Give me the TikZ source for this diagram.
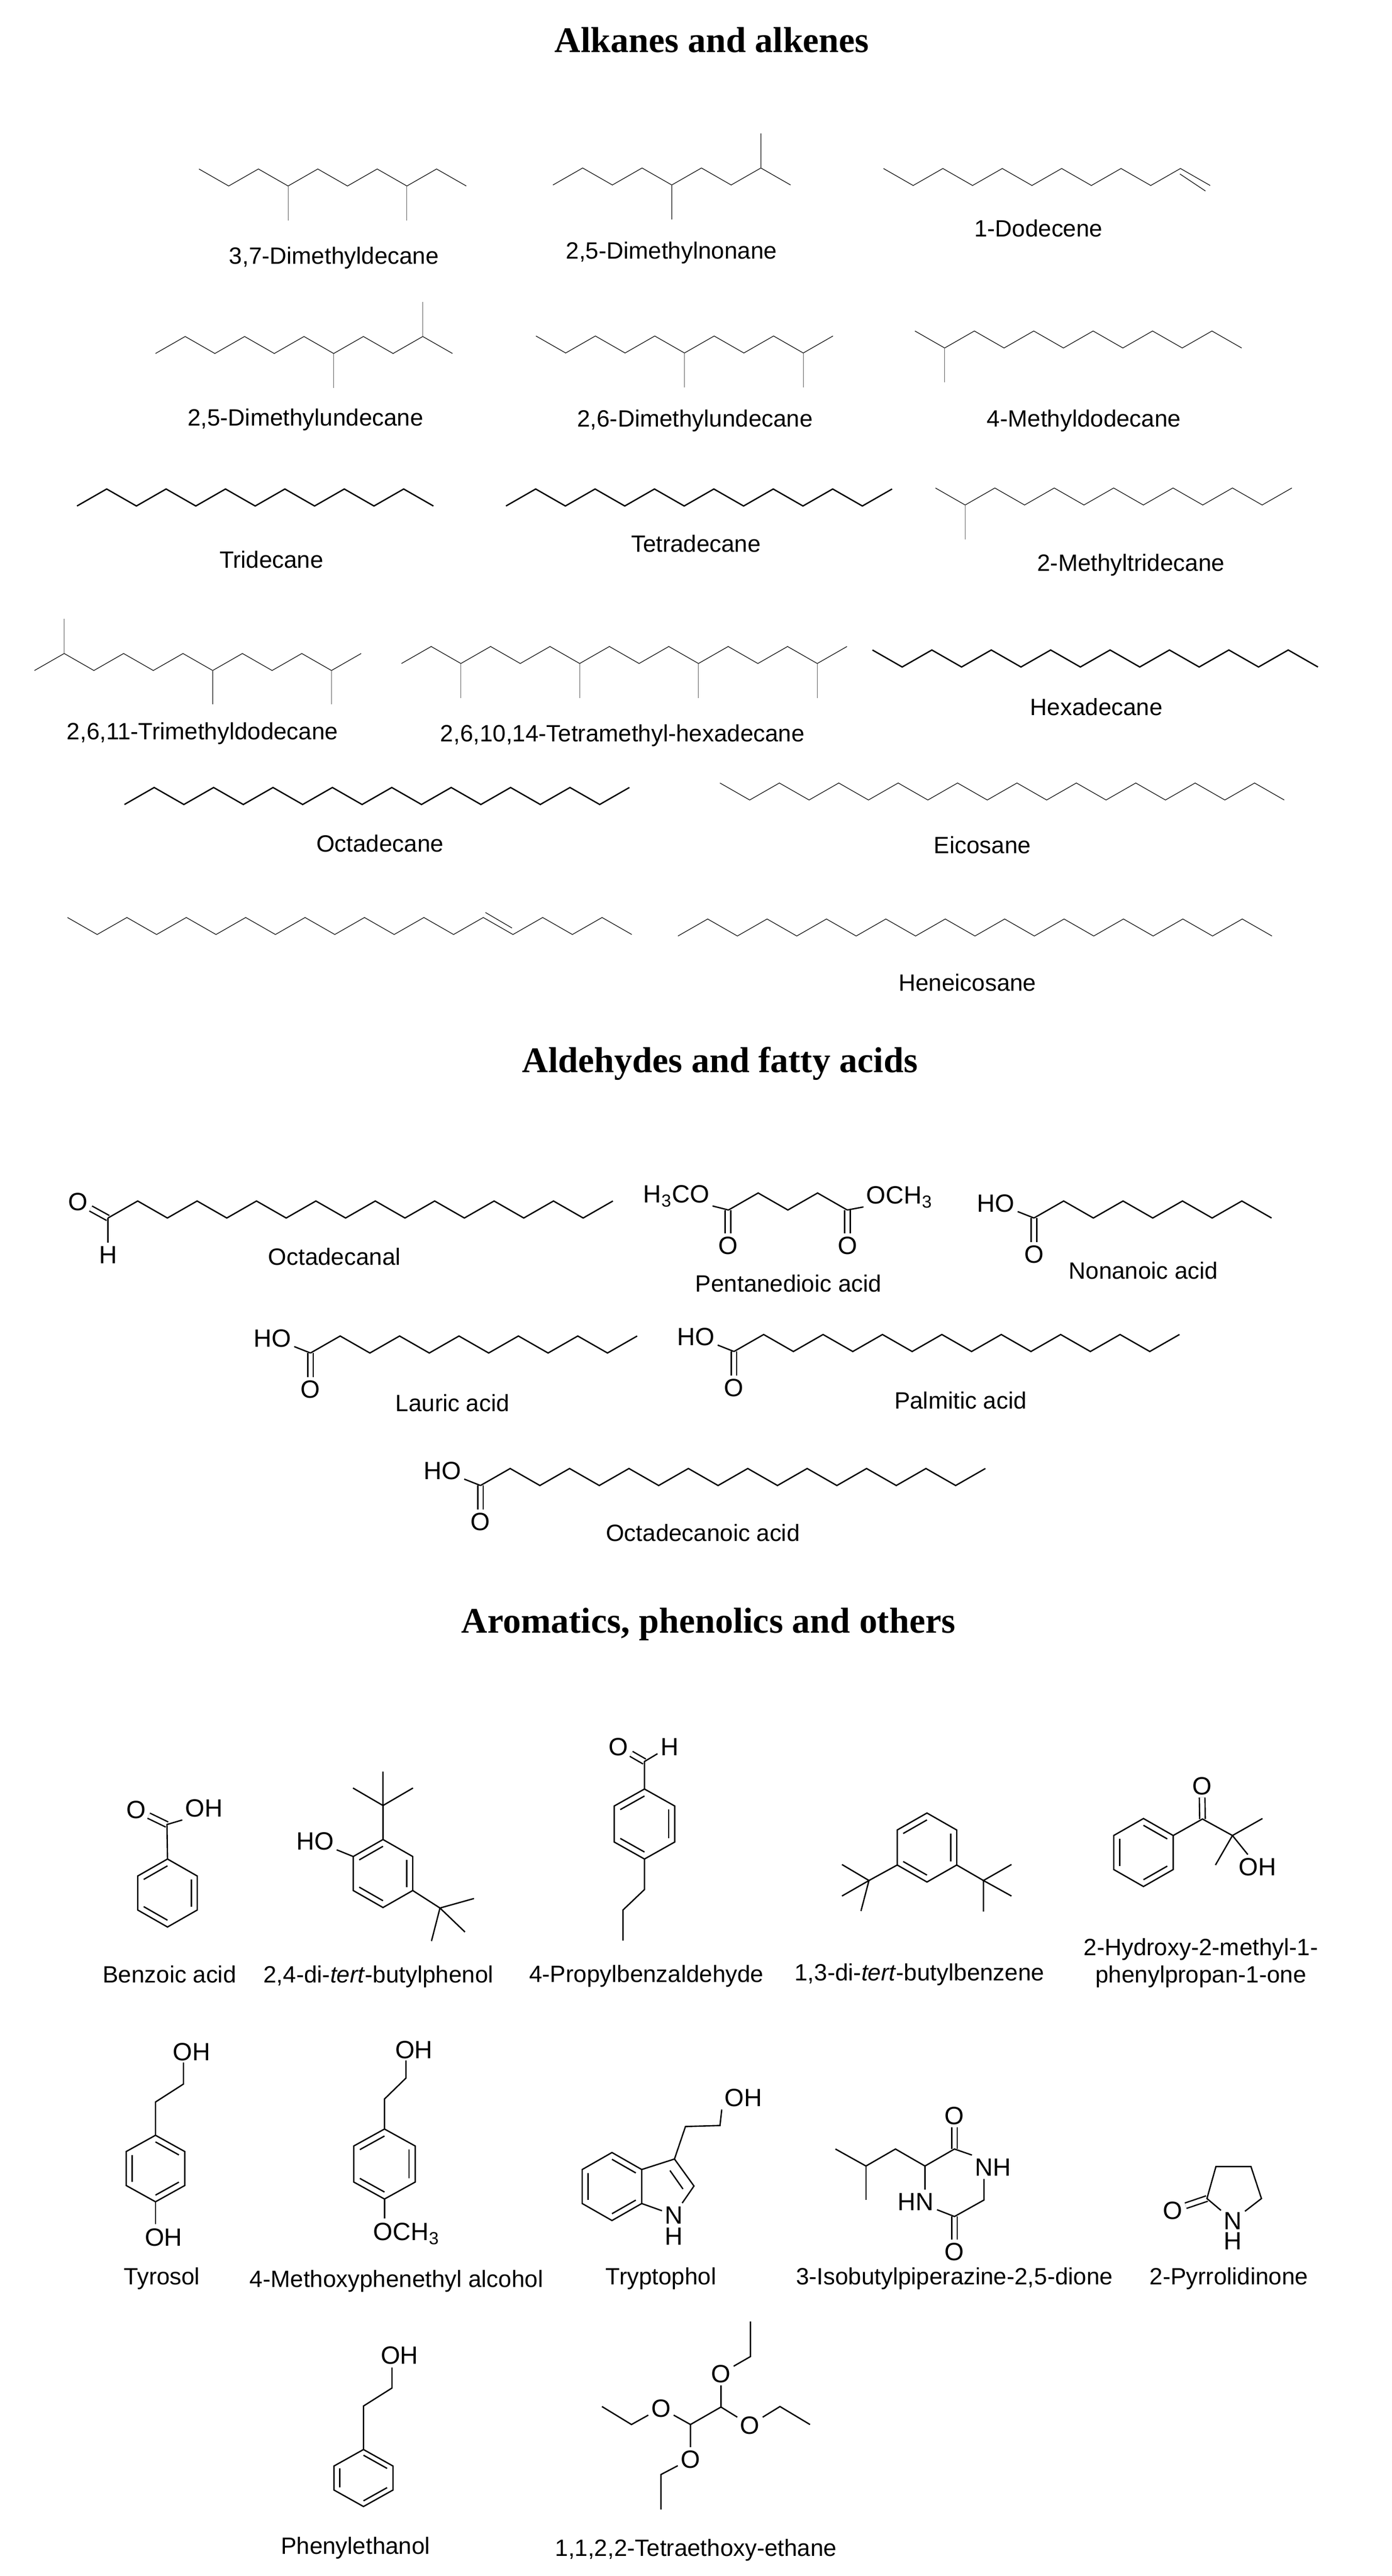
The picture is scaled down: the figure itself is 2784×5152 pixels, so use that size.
\documentclass[tikz,border=0pt]{standalone}
\usepackage{fontspec}
\usepackage{amsmath}
\usetikzlibrary{calc}
\setmainfont{Liberation Sans}
\newfontfamily\headfont{Liberation Serif}
\tikzset{
  thinbond/.style={line width=0.014cm,color=black!90},
  greybond/.style={line width=0.014cm,color=black!65},
  bond/.style={line width=0.027cm,color=black},
  dblbond/.style={line width=0.027cm,double,double distance=0.085cm},
  atom/.style={inner sep=1.5pt,font=\fontsize{14.2}{16}\selectfont,text height=10.2pt,text depth=0pt},
  molname/.style={inner sep=0pt,yshift=-0.04cm,font=\fontsize{13.4}{15.6}\selectfont,text height=9.6pt,text depth=2.8pt},
  molnametwo/.style={inner sep=0pt,yshift=-0.02cm,font=\fontsize{13.4}{15.6}\selectfont,align=center},
  heading/.style={inner sep=0pt,font=\headfont\bfseries\fontsize{20.5}{24}\selectfont}
}
\newcommand{\zigzag}[6][thinbond]{
  \foreach \i in {0,...,#5}{\coordinate(#2-\i)at({#3+59.4*\i},{#4+(#6)*34*mod(\i,2)});}
  \draw[#1](#2-0)\foreach \i in {1,...,#5}{--(#2-\i)};
}
\newcommand{\ring}[7]{
  \coordinate(#1-c)at(#2,#3);
  \coordinate(#1-1)at(#2,#3-#5);\coordinate(#1-2)at(#2+#4,#3-#6);\coordinate(#1-3)at(#2+#4,#3+#6);
  \coordinate(#1-4)at(#2,#3+#5);\coordinate(#1-5)at(#2-#4,#3+#6);\coordinate(#1-6)at(#2-#4,#3-#6);
  \draw[bond](#1-1)--(#1-2)--(#1-3)--(#1-4)--(#1-5)--(#1-6)--cycle;
  \foreach \a/\b in {#7}{\draw[bond]($(#1-\a)!.2!(#1-c)$)--($(#1-\b)!.2!(#1-c)$);}
}
\newcommand{\tbutyl}[9]{
  \coordinate(#1)at(#2,#3);
  \draw[bond](#4,#5)--(#1)--(#6,#7)(#1)--(#8,#9);
}
\newcommand{\fattyacid}[4]{
  \coordinate(#1-co)at(#2,#3);
  \node[atom](#1-oh)at(#2-76,#3-30){HO};
  \node[atom](#1-o)at(#2,#3+72){O};
  \draw[dblbond](#1-co)--(#1-o);
  \draw[bond](#1-co)--(#1-oh);
  \zigzag[bond]{#1}{#2}{#3}{#4}{-1}
}
\begin{document}
\begin{tikzpicture}[x=0.01cm,y=-0.01cm]
\useasboundingbox(0,0)rectangle(2784,5152);
\node[heading](headalk)at(1424,80){Alkanes and alkenes};
\node[heading](headald)at(1440,2127){Aldehydes and fatty acids};
\node[heading](headaro)at(1417,3248){Aromatics, phenolics and others};

\zigzag{dmd}{398}{338}{9}{1}
\draw[greybond](dmd-3)--++(0,69)coordinate(dmd-m1);
\draw[greybond](dmd-7)--++(0,69)coordinate(dmd-m2);
\node[molname](dmdname)at(668,512){3,7-Dimethyldecane};
\zigzag{dmn}{1106}{370}{8}{-1}
\draw[greybond](dmn-4)--++(0,69)coordinate(dmn-m1);
\draw[greybond](dmn-7)--++(0,-69)coordinate(dmn-m2);
\node[molname](dmnname)at(1343,502){2,5-Dimethylnonane};
\zigzag{ddc}{1767}{337}{11}{1}
\draw[thinbond](2360,348)coordinate(ddc-a)--(2411,382)coordinate(ddc-b);
\node[molname](ddcname)at(2077,458){1-Dodecene};

\zigzag{dmu}{311}{707}{10}{-1}
\draw[greybond](dmu-6)--++(0,69)coordinate(dmu-m1);
\draw[greybond](dmu-9)--++(0,-69)coordinate(dmu-m2);
\node[molname](dmuname)at(611,836){2,5-Dimethylundecane};
\zigzag{dmv}{1072}{672}{10}{1}
\draw[greybond](dmv-5)--++(0,69)coordinate(dmv-m1);
\draw[greybond](dmv-9)--++(0,69)coordinate(dmv-m2);
\node[molname](dmvname)at(1390,838){2,6-Dimethylundecane};
\zigzag{mdd}{1830}{662}{11}{1}
\draw[greybond](mdd-1)--++(0,69)coordinate(mdd-m1);
\node[molname](mddname)at(2168,838){4-Methyldodecane};

\zigzag[bond]{tri}{154}{1012}{12}{-1}
\node[molname](triname)at(543,1120){Tridecane};
\zigzag[bond]{tet}{1012}{1012}{13}{-1}
\node[molname](tetname)at(1392,1088){Tetradecane};
\zigzag{mtr}{1871}{976}{12}{1}
\draw[greybond](mtr-1)--++(0,69)coordinate(mtr-m1);
\node[molname](mtrname)at(2262,1126){2-Methyltridecane};

\zigzag{tmd}{69}{1341}{11}{-1}
\draw[greybond](tmd-1)--++(0,-69)coordinate(tmd-m1);
\draw[greybond](tmd-6)--++(0,68)coordinate(tmd-m2);
\draw[greybond](tmd-10)--++(0,68)coordinate(tmd-m3);
\node[molname](tmdname)at(405,1463){2,6,11-Trimethyldodecane};
\zigzag{tmh}{803}{1327}{15}{-1}
\foreach \k in {2,6,10,14}{\draw[greybond](tmh-\k)--++(0,69)coordinate(tmh-m\k);}
\node[molname](tmhname)at(1245,1467){2,6,10,14-Tetramethyl-hexadecane};
\zigzag[bond]{hex}{1745}{1300}{15}{1}
\node[molname](hexname)at(2193,1415){Hexadecane};

\zigzag[bond]{oct}{249}{1609}{17}{-1}
\node[molname](octname)at(760,1688){Octadecane};
\zigzag{eic}{1440}{1566}{19}{1}
\node[molname](eicname)at(1965,1691){Eicosane};

\zigzag{non}{135}{1835}{19}{1}
\draw[thinbond](971,1825)coordinate(non-a)--(1024,1856)coordinate(non-b);
\zigzag{hen}{1356}{1872}{20}{-1}
\node[molname](henname)at(1935,1966){Heneicosane};

\coordinate(ald-co)at(216,2436);
\node[atom](ald-o)at(156,2403){O};
\node[atom](ald-h)at(216,2509){H};
\draw[dblbond](ald-co)--(ald-o);
\draw[bond](ald-co)--(ald-h);
\zigzag[bond]{ald}{216}{2436}{17}{-1}
\node[molname](aldname)at(669,2514){Octadecanal};

\node[atom](pen-l)at(1353,2388){H\textsubscript{3}CO};
\node[atom](pen-r)at(1799,2390){OCH\textsubscript{3}};
\node[atom](pen-o1)at(1456,2491){O};
\node[atom](pen-o2)at(1695,2491){O};
\draw[dblbond](1456,2420)coordinate(pen-c1)--(pen-o1);
\draw[dblbond](1695,2420)coordinate(pen-c2)--(pen-o2);
\zigzag[bond]{pen}{1457}{2420}{4}{-1}
\draw[bond](pen-0)--(pen-l.south east);
\draw[bond](pen-4)--(pen-r.south west);
\node[molname](penname)at(1577,2568){Pentanedioic acid};

\fattyacid{nna}{2068}{2436}{8}
\node[molname](nnaname)at(2287,2542){Nonanoic acid};
\fattyacid{lau}{621}{2706}{11}
\node[molname](launame)at(905,2807){Lauric acid};
\fattyacid{pal}{1468}{2703}{15}
\node[molname](palname)at(1921,2802){Palmitic acid};
\fattyacid{ode}{961}{2971}{17}
\node[molname](odename)at(1406,3066){Octadecanoic acid};

\ring{bza}{335}{3786}{59.5}{68}{34}{1/6,2/3,4/5}
\node[atom](bza-o)at(272,3619){O};
\node[atom](bza-oh)at(408,3616){OH};
\coordinate(bza-co)at(334,3649);
\draw[dblbond](bza-co)--(bza-o);
\draw[bond](bza-1)--(bza-co)--(bza-oh.south west);
\node[molname](bzaname)at(339,3949){Benzoic acid};

\ring{dtb}{766}{3747}{59.5}{68}{34}{1/6,2/3,4/5}
\tbutyl{dtb-t1}{766}{3611}{766}{3543}{706}{3576}{826}{3576}
\draw[bond](dtb-1)--(dtb-t1);
\tbutyl{dtb-t2}{880}{3816}{948}{3797}{930}{3864}{863}{3882}
\draw[bond](dtb-3)--(dtb-t2);
\node[atom](dtb-oh)at(630,3682){HO};
\draw[bond](dtb-6)--(dtb-oh);
\node[molname](dtbname)at(757,3949){2,4-di-\textit{tert}-butylphenol};

\ring{pba}{1289}{3648}{60.5}{70}{36}{1/6,2/3,4/5}
\coordinate(pba-co)at(1289,3523);
\node[atom](pba-o)at(1237,3493){O};
\node[atom](pba-h)at(1339,3493){H};
\draw[dblbond](pba-co)--(pba-o);
\draw[bond](pba-1)--(pba-co)--(pba-h);
\draw[bond](pba-4)--(1289,3779)coordinate(pba-a)--(1246,3820)coordinate(pba-b)--(1246,3881)coordinate(pba-d);
\node[molname](pbaname)at(1293,3948){4-Propylbenzaldehyde};

\ring{dbb}{1854}{3695}{59.5}{69}{35}{1/6,2/3,4/5}
\tbutyl{dbb-t1}{1738}{3761}{1684}{3729}{1684}{3792}{1722}{3822}
\draw[bond](dbb-5)--(dbb-t1);
\tbutyl{dbb-t2}{1967}{3761}{2023}{3729}{2023}{3792}{1967}{3823}
\draw[bond](dbb-3)--(dbb-t2);
\node[molname](dbbname)at(1839,3945){1,3-di-\textit{tert}-butylbenzene};

\ring{hmp}{2287}{3705}{59.5}{68}{34}{1/2,3/4,5/6}
\coordinate(hmp-co)at(2405,3638);
\node[atom](hmp-o)at(2404,3571){O};
\node[atom](hmp-oh)at(2515,3733){OH};
\draw[dblbond](hmp-co)--(hmp-o);
\draw[bond](hmp-2)--(hmp-co)--(2465,3671)coordinate(hmp-a)--(2525,3637)coordinate(hmp-m1);
\draw[bond](hmp-a)--(2431,3730)coordinate(hmp-m2);
\draw[bond](hmp-a)--(hmp-oh);
\node[molnametwo](hmpname)at(2402,3924){2-Hydroxy-2-methyl-1-\\phenylpropan-1-one};

\ring{tyr}{311}{4337}{58.5}{66.5}{34}{1/2,3/4,5/6}
\node[atom](tyr-oh)at(383,4103){OH};
\node[atom](tyr-ohb)at(327,4474){OH};
\draw[bond](tyr-1)--(311,4204)coordinate(tyr-a)--(367,4168)coordinate(tyr-b)--(367,4125)coordinate(tyr-d);
\draw[bond](tyr-4)--(311,4448)coordinate(tyr-e);
\node[molname](tyrname)at(324,4553){Tyrosol};

\ring{mpa}{769}{4328}{61.5}{70}{36}{1/6,2/3,4/5}
\node[atom](mpa-oh)at(828,4099){OH};
\node[atom](mpa-ome)at(813,4463){OCH\textsubscript{3}};
\draw[bond](mpa-1)--(769,4198)coordinate(mpa-a)--(812,4156)coordinate(mpa-b)--(812,4121)coordinate(mpa-d);
\draw[bond](mpa-4)--(769,4437)coordinate(mpa-e);
\node[molname](mpaname)at(793,4558){4-Methoxyphenethyl alcohol};

\ring{try}{1224}{4373}{59.5}{68}{34}{1/2,3/4,5/6}
\node[atom](try-n)at(1348,4430){N};
\node[atom](try-h)at(1348,4472){H};
\node[atom](try-oh)at(1487,4195){OH};
\draw[bond](try-2)--(1349,4318)coordinate(try-c3)--(1388,4372)coordinate(try-c2)--(try-n);
\draw[bond](try-3)--(try-n);
\draw[bond](1340,4341)coordinate(try-i1)--(1366,4378)coordinate(try-i2);
\draw[bond](try-c3)--(1371,4253)coordinate(try-a)--(1440,4251)coordinate(try-b)--(try-oh.south west);
\node[molname](tryname)at(1322,4553){Tryptophol};

\node[atom](ibp-o1)at(1909,4231){O};
\node[atom](ibp-o2)at(1909,4503){O};
\node[atom](ibp-nh)at(1986,4334){NH};
\node[atom](ibp-hn)at(1832,4403){HN};
\coordinate(ibp-c2)at(1909,4298);
\coordinate(ibp-c5)at(1909,4433);
\draw[dblbond](ibp-c2)--(ibp-o1);
\draw[dblbond](ibp-c5)--(ibp-o2);
\draw[bond](1671,4298)coordinate(ibp-m1)--(1732,4332)coordinate(ibp-a)--(1791,4298)coordinate(ibp-b)--(1850,4332)coordinate(ibp-c3)--(ibp-c2)--(ibp-nh.north west);
\draw[bond](ibp-a)--(1732,4400)coordinate(ibp-m2);
\draw[bond](ibp-c3)--(ibp-hn.north -| ibp-c3);
\draw[bond](ibp-hn)--(ibp-c5)--(1968,4400)coordinate(ibp-c6)--(ibp-nh.south -| ibp-c6);
\node[molname](ibpname)at(1909,4553){3-Isobutylpiperazine-2,5-dione};

\node[atom](pyr-n)at(2466,4441){N};
\node[atom](pyr-h)at(2466,4481){H};
\node[atom](pyr-o)at(2346,4420){O};
\coordinate(pyr-c2)at(2414,4397);
\draw[dblbond](pyr-c2)--(pyr-o);
\draw[bond](pyr-n)--(pyr-c2)--(2432,4333)coordinate(pyr-c3)--(2502,4333)coordinate(pyr-c4)--(2523,4397)coordinate(pyr-c5)--(pyr-n);
\node[molname](pyrname)at(2458,4553){2-Pyrrolidinone};

\ring{phe}{727}{4956}{59}{57}{24}{1/2,3/4,5/6}
\node[atom](phe-oh)at(799,4710){OH};
\draw[bond](phe-1)--(727,4812)coordinate(phe-a)--(784,4776)coordinate(phe-b)--(784,4735)coordinate(phe-d);
\node[molname](phename)at(711,5092){Phenylethanol};

\coordinate(tee-c1)at(1381,4849);
\coordinate(tee-c2)at(1442,4814);
\node[atom](tee-o1)at(1322,4816){O};
\node[atom](tee-o2)at(1381,4918){O};
\node[atom](tee-o3)at(1500,4850){O};
\node[atom](tee-o4)at(1442,4747){O};
\draw[bond](tee-c1)--(tee-c2);
\draw[bond](tee-c1)--(tee-o1)--(1263,4849)coordinate(tee-a1)--(1204,4813)coordinate(tee-b1);
\draw[bond](tee-c1)--(tee-o2)--(1322,4949)coordinate(tee-a2)--(1322,5019)coordinate(tee-b2);
\draw[bond](tee-c2)--(tee-o3)--(1560,4813)coordinate(tee-a3)--(1620,4849)coordinate(tee-b3);
\draw[bond](tee-c2)--(tee-o4)--(1501,4713)coordinate(tee-a4)--(1501,4643)coordinate(tee-b4);
\node[molname](teename)at(1392,5096){1,1,2,2-Tetraethoxy-ethane};
\end{tikzpicture}
\end{document}
